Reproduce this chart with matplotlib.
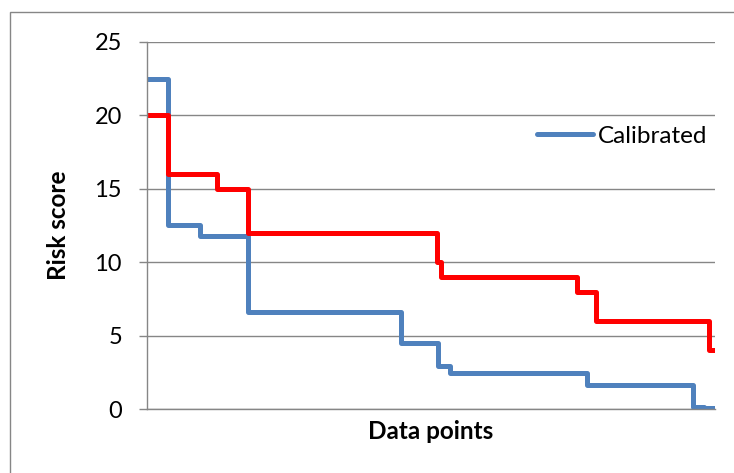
import numpy as np
import matplotlib
matplotlib.use('Agg')
import matplotlib.pyplot as plt
from matplotlib.patches import Rectangle

# step breakpoints (data point index, 0-100) and risk score after each break
blue_x = [0, 3.7, 9.4, 17.8, 44.8, 51.3, 53.4, 77.4, 96.1, 98.0, 100]
blue_y = [22.5, 12.5, 11.8, 6.6, 4.5, 2.9, 2.45, 1.65, 0.15, 0.05, 0.05]
red_x = [0, 3.7, 12.3, 17.8, 51.1, 51.7, 75.7, 79.0, 98.9, 100]
red_y = [20, 16, 15, 12, 10, 9, 8, 6, 4, 4]
yticks = [0, 5, 10, 15, 20, 25]

plt.rcParams['font.family'] = ['Lato', 'DejaVu Sans']
grey = '#868686'

fig = plt.figure(figsize=(7.34, 4.73), dpi=100)
ax = fig.add_axes([147/734, 1-409/473, (715-147)/734, (409-42)/473])

# outer chart border
fig.patches.append(Rectangle((10/734, -0.2), 1.2, 1.2 - 12/473,
                             transform=fig.transFigure, fill=False,
                             edgecolor=grey, lw=1))

ax.step(blue_x, blue_y, where='post', color='#4F81BD', lw=3.6, label='Calibrated',
        solid_joinstyle='round', solid_capstyle='round')
ax.step(red_x, red_y, where='post', color='#FF0000', lw=3.6, label='_nolegend_',
        solid_joinstyle='round', solid_capstyle='round')

ax.set_xlim(0, 100)
ax.set_ylim(0, 25)
ax.set_yticks(yticks)
ax.set_xticks([])
ax.yaxis.grid(True, color=grey, lw=1)
ax.set_axisbelow(True)
for s in ['top', 'right']:
    ax.spines[s].set_visible(False)
for s in ['left', 'bottom']:
    ax.spines[s].set_color(grey)
    ax.spines[s].set_linewidth(1)
ax.tick_params(axis='y', colors=grey, length=6, width=1, pad=12, labelsize=17,
               labelcolor='black')

ax.set_ylabel('Risk score', fontsize=17.5, fontweight='bold', labelpad=18)
ax.set_xlabel('Data points', fontsize=17.5, fontweight='bold', labelpad=8)

ax.legend(loc='center left', bbox_to_anchor=((537-147)/568, (409-136)/367),
          frameon=False, fontsize=17.5, handlelength=2.3, handletextpad=0.2,
          borderpad=0, borderaxespad=0)

fig.savefig('out.png', dpi=100)
